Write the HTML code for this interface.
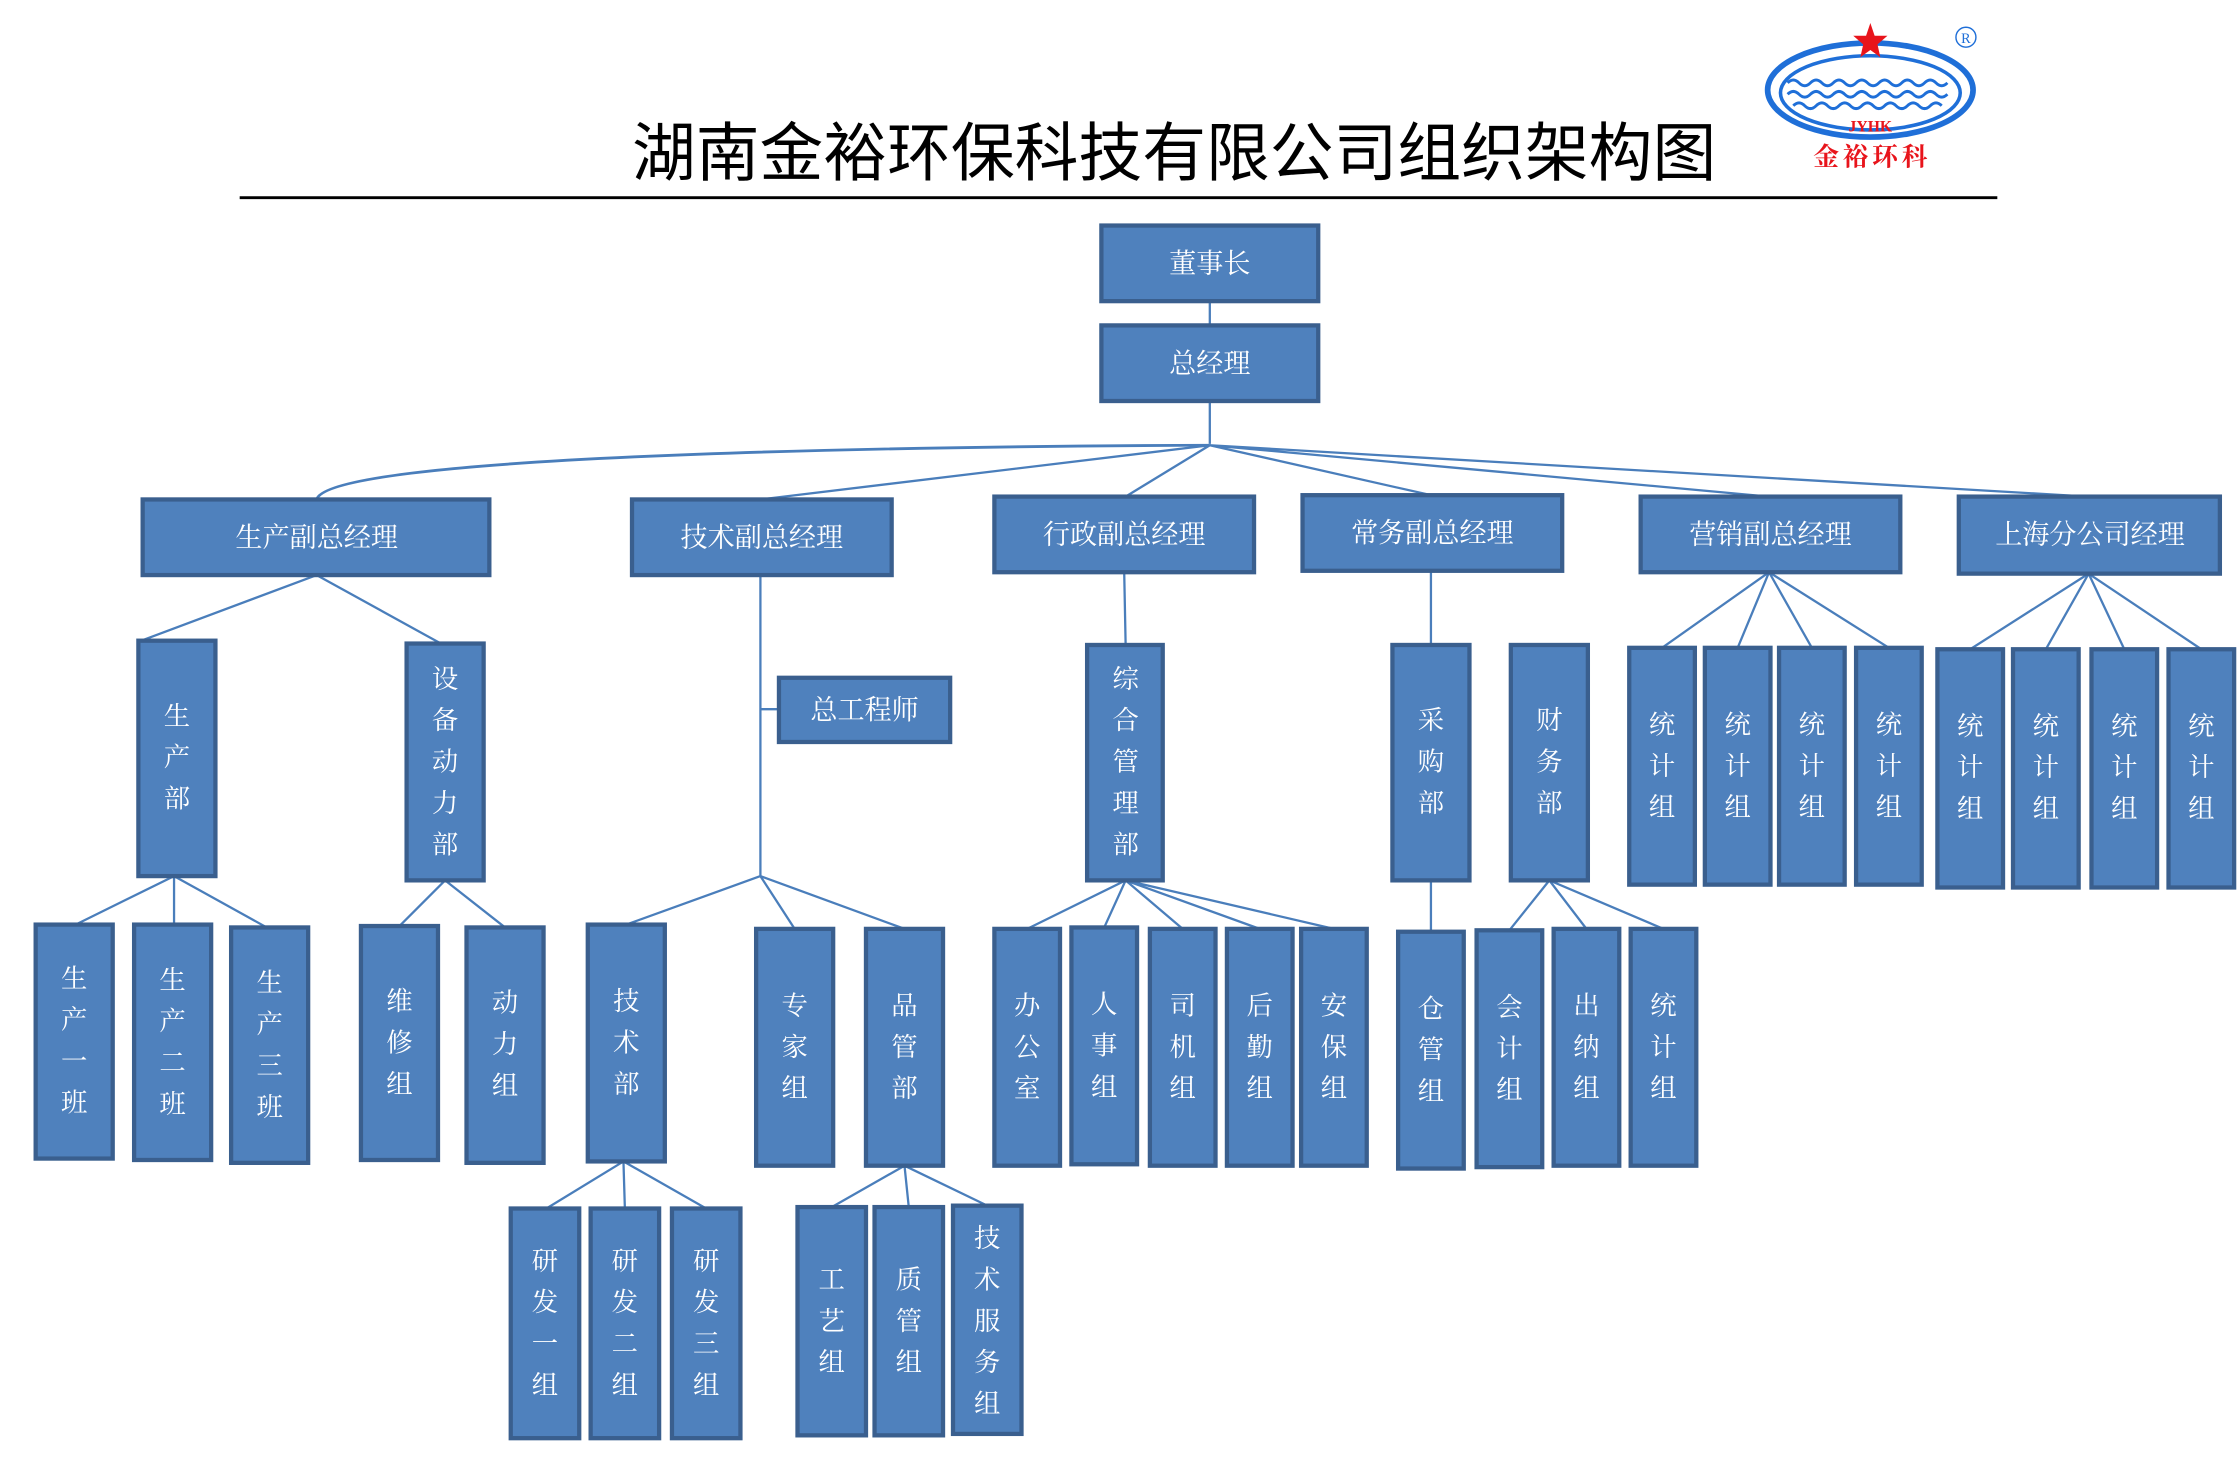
<!DOCTYPE html>
<html><head><meta charset="utf-8"><style>
html,body{margin:0;padding:0;background:#fff;width:2237px;height:1464px;overflow:hidden}
svg{display:block}
.b{fill:#4f81bd;stroke:#3a5f8e;stroke-width:3}
.t{fill:#fff;font-family:"Liberation Serif","Noto Serif CJK SC",serif;font-size:18.5px;text-anchor:middle}
.h{font-size:19px}
.l{stroke:#4a7ebb;stroke-width:1.6;fill:none}
</style></head><body>
<svg width="2237" height="1464" viewBox="0 0 1568 1026" xmlns="http://www.w3.org/2000/svg">
<text x="823" y="123" font-family="'Liberation Sans','Noto Sans CJK SC',sans-serif" font-size="45" font-weight="normal" text-anchor="middle" fill="#000" textLength="760" lengthAdjust="spacingAndGlyphs">湖南金裕环保科技有限公司组织架构图</text>
<line x1="168" y1="138.5" x2="1400" y2="138.5" stroke="#000" stroke-width="2"/>
<!-- logo -->
<ellipse cx="1311" cy="63" rx="72" ry="33" fill="none" stroke="#1f6fd8" stroke-width="4"/>
<ellipse cx="1311" cy="65" rx="63" ry="26" fill="none" stroke="#1f6fd8" stroke-width="2.5"/>
<path d="M1253 58 q4-4 8 0 t8 0 t8 0 t8 0 t8 0 t8 0 t8 0 t8 0 t8 0 t8 0 t8 0 t8 0 t8 0 t8 0 M1253 66 q4-4 8 0 t8 0 t8 0 t8 0 t8 0 t8 0 t8 0 t8 0 t8 0 t8 0 t8 0 t8 0 t8 0 t8 0 M1257 74 q4-4 8 0 t8 0 t8 0 t8 0 t8 0 t8 0 t8 0 t8 0 t8 0 t8 0 t8 0 t8 0 t8 0" fill="none" stroke="#1f6fd8" stroke-width="2"/>
<polygon points="1311,16 1314,25 1323,25 1316,31 1318,40 1311,35 1304,40 1306,31 1299,25 1308,25" fill="#e8141b"/>
<text x="1311" y="92" font-family="'Liberation Serif',serif" font-size="11" font-weight="bold" fill="#e8141b" text-anchor="middle">JYHK</text>
<text x="1311" y="116" font-family="'Liberation Serif','Noto Serif CJK SC',serif" font-size="18" font-weight="bold" fill="#e8141b" text-anchor="middle" textLength="80" lengthAdjust="spacing">金裕环科</text>
<circle cx="1378" cy="26" r="7" fill="none" stroke="#1f6fd8" stroke-width="1"/>
<text x="1378" y="30" font-family="'Liberation Serif',serif" font-size="10" fill="#1f6fd8" text-anchor="middle">R</text>

<!-- connectors -->
<g class="l">
<path d="M848 211V228M848 281V311"/>
<path d="M848 312 C600 313 230 320 222 350" stroke-width="2"/>
<path d="M848 312L533 350M848 312L789 348M848 312L1003 347M848 312L1240 348M848 312L1464 348"/>
<path d="M222 403L99 449M222 403L309 451"/>
<path d="M122 614L53 648M122 614L122 648M122 614L187 650"/>
<path d="M312 617L280 649M312 617L354 650"/>
<path d="M533 403V614M533 497H546M533 614L439 648M533 614L557 651M533 614L634 651"/>
<path d="M437 814L383 847M437 814L438 847M437 814L495 847"/>
<path d="M634 817L583 846M634 817L637 846M634 817L692 845"/>
<path d="M788 401L789 452M789 617L720 651M789 617L774 650M789 617L829 651M789 617L883 651M789 617L935 651"/>
<path d="M1003 400V452M1003 617V653"/>
<path d="M1086 617L1058 652M1086 617L1112 651M1086 617L1166 651"/>
<path d="M1240 401L1165 454M1240 401L1218 454M1240 401L1270 454M1240 401L1324 454"/>
<path d="M1464 402L1381 455M1464 402L1434 455M1464 402L1489 455M1464 402L1543 455"/>
</g>

<!-- horizontal boxes -->
<rect class="b" x="772" y="158" width="152" height="53"/><text class="t h" x="848" y="191">董事长</text>
<rect class="b" x="772" y="228" width="152" height="53"/><text class="t h" x="848" y="261">总经理</text>
<rect class="b" x="100" y="350" width="243" height="53"/><text class="t h" x="222" y="383">生产副总经理</text>
<rect class="b" x="443" y="350" width="182" height="53"/><text class="t h" x="534" y="383">技术副总经理</text>
<rect class="b" x="697" y="348" width="182" height="53"/><text class="t h" x="788" y="381">行政副总经理</text>
<rect class="b" x="913" y="347" width="182" height="53"/><text class="t h" x="1004" y="380">常务副总经理</text>
<rect class="b" x="1150" y="348" width="182" height="53"/><text class="t h" x="1241" y="381">营销副总经理</text>
<rect class="b" x="1373" y="348" width="183" height="54"/><text class="t h" x="1465" y="381">上海分公司经理</text>
<rect class="b" x="546" y="475" width="120" height="45"/><text class="t h" x="606" y="504">总工程师</text>

<!-- vertical boxes row 2 -->
<rect class="b" x="97" y="449" width="54" height="165"/><text class="t" x="124"><tspan x="124" y="508">生</tspan><tspan x="124" y="537">产</tspan><tspan x="124" y="566">部</tspan></text>
<rect class="b" x="285" y="451" width="54" height="166"/><text class="t"><tspan x="312" y="482">设</tspan><tspan x="312" y="511">备</tspan><tspan x="312" y="540">动</tspan><tspan x="312" y="569">力</tspan><tspan x="312" y="598">部</tspan></text>
<rect class="b" x="762" y="452" width="53" height="165"/><text class="t"><tspan x="789" y="482">综</tspan><tspan x="789" y="511">合</tspan><tspan x="789" y="540">管</tspan><tspan x="789" y="569">理</tspan><tspan x="789" y="598">部</tspan></text>
<rect class="b" x="976" y="452" width="54" height="165"/><text class="t"><tspan x="1003" y="511">采</tspan><tspan x="1003" y="540">购</tspan><tspan x="1003" y="569">部</tspan></text>
<rect class="b" x="1059" y="452" width="54" height="165"/><text class="t"><tspan x="1086" y="511">财</tspan><tspan x="1086" y="540">务</tspan><tspan x="1086" y="569">部</tspan></text>

<rect class="b" x="1142" y="454" width="46" height="166"/><text class="t"><tspan x="1165" y="514">统</tspan><tspan x="1165" y="543">计</tspan><tspan x="1165" y="572">组</tspan></text>
<rect class="b" x="1195" y="454" width="46" height="166"/><text class="t"><tspan x="1218" y="514">统</tspan><tspan x="1218" y="543">计</tspan><tspan x="1218" y="572">组</tspan></text>
<rect class="b" x="1247" y="454" width="46" height="166"/><text class="t"><tspan x="1270" y="514">统</tspan><tspan x="1270" y="543">计</tspan><tspan x="1270" y="572">组</tspan></text>
<rect class="b" x="1301" y="454" width="46" height="166"/><text class="t"><tspan x="1324" y="514">统</tspan><tspan x="1324" y="543">计</tspan><tspan x="1324" y="572">组</tspan></text>
<rect class="b" x="1358" y="455" width="46" height="167"/><text class="t"><tspan x="1381" y="515">统</tspan><tspan x="1381" y="544">计</tspan><tspan x="1381" y="573">组</tspan></text>
<rect class="b" x="1411" y="455" width="46" height="167"/><text class="t"><tspan x="1434" y="515">统</tspan><tspan x="1434" y="544">计</tspan><tspan x="1434" y="573">组</tspan></text>
<rect class="b" x="1466" y="455" width="46" height="167"/><text class="t"><tspan x="1489" y="515">统</tspan><tspan x="1489" y="544">计</tspan><tspan x="1489" y="573">组</tspan></text>
<rect class="b" x="1520" y="455" width="46" height="167"/><text class="t"><tspan x="1543" y="515">统</tspan><tspan x="1543" y="544">计</tspan><tspan x="1543" y="573">组</tspan></text>

<!-- row 3 -->
<rect class="b" x="25" y="648" width="54" height="164"/><text class="t"><tspan x="52" y="692">生</tspan><tspan x="52" y="721">产</tspan><tspan x="52" y="750">一</tspan><tspan x="52" y="779">班</tspan></text>
<rect class="b" x="94" y="648" width="54" height="165"/><text class="t"><tspan x="121" y="693">生</tspan><tspan x="121" y="722">产</tspan><tspan x="121" y="751">二</tspan><tspan x="121" y="780">班</tspan></text>
<rect class="b" x="162" y="650" width="54" height="165"/><text class="t"><tspan x="189" y="695">生</tspan><tspan x="189" y="724">产</tspan><tspan x="189" y="753">三</tspan><tspan x="189" y="782">班</tspan></text>
<rect class="b" x="253" y="649" width="54" height="164"/><text class="t"><tspan x="280" y="708">维</tspan><tspan x="280" y="737">修</tspan><tspan x="280" y="766">组</tspan></text>
<rect class="b" x="327" y="650" width="54" height="165"/><text class="t"><tspan x="354" y="709">动</tspan><tspan x="354" y="738">力</tspan><tspan x="354" y="767">组</tspan></text>
<rect class="b" x="412" y="648" width="54" height="166"/><text class="t"><tspan x="439" y="708">技</tspan><tspan x="439" y="737">术</tspan><tspan x="439" y="766">部</tspan></text>
<rect class="b" x="530" y="651" width="54" height="166"/><text class="t"><tspan x="557" y="711">专</tspan><tspan x="557" y="740">家</tspan><tspan x="557" y="769">组</tspan></text>
<rect class="b" x="607" y="651" width="54" height="166"/><text class="t"><tspan x="634" y="711">品</tspan><tspan x="634" y="740">管</tspan><tspan x="634" y="769">部</tspan></text>
<rect class="b" x="697" y="651" width="46" height="166"/><text class="t"><tspan x="720" y="711">办</tspan><tspan x="720" y="740">公</tspan><tspan x="720" y="769">室</tspan></text>
<rect class="b" x="751" y="650" width="46" height="166"/><text class="t"><tspan x="774" y="710">人</tspan><tspan x="774" y="739">事</tspan><tspan x="774" y="768">组</tspan></text>
<rect class="b" x="806" y="651" width="46" height="166"/><text class="t"><tspan x="829" y="711">司</tspan><tspan x="829" y="740">机</tspan><tspan x="829" y="769">组</tspan></text>
<rect class="b" x="860" y="651" width="46" height="166"/><text class="t"><tspan x="883" y="711">后</tspan><tspan x="883" y="740">勤</tspan><tspan x="883" y="769">组</tspan></text>
<rect class="b" x="912" y="651" width="46" height="166"/><text class="t"><tspan x="935" y="711">安</tspan><tspan x="935" y="740">保</tspan><tspan x="935" y="769">组</tspan></text>
<rect class="b" x="980" y="653" width="46" height="166"/><text class="t"><tspan x="1003" y="713">仓</tspan><tspan x="1003" y="742">管</tspan><tspan x="1003" y="771">组</tspan></text>
<rect class="b" x="1035" y="652" width="46" height="166"/><text class="t"><tspan x="1058" y="712">会</tspan><tspan x="1058" y="741">计</tspan><tspan x="1058" y="770">组</tspan></text>
<rect class="b" x="1089" y="651" width="46" height="166"/><text class="t"><tspan x="1112" y="711">出</tspan><tspan x="1112" y="740">纳</tspan><tspan x="1112" y="769">组</tspan></text>
<rect class="b" x="1143" y="651" width="46" height="166"/><text class="t"><tspan x="1166" y="711">统</tspan><tspan x="1166" y="740">计</tspan><tspan x="1166" y="769">组</tspan></text>

<!-- row 4 -->
<rect class="b" x="358" y="847" width="48" height="161"/><text class="t"><tspan x="382" y="890">研</tspan><tspan x="382" y="919">发</tspan><tspan x="382" y="948">一</tspan><tspan x="382" y="977">组</tspan></text>
<rect class="b" x="414" y="847" width="48" height="161"/><text class="t"><tspan x="438" y="890">研</tspan><tspan x="438" y="919">发</tspan><tspan x="438" y="948">二</tspan><tspan x="438" y="977">组</tspan></text>
<rect class="b" x="471" y="847" width="48" height="161"/><text class="t"><tspan x="495" y="890">研</tspan><tspan x="495" y="919">发</tspan><tspan x="495" y="948">三</tspan><tspan x="495" y="977">组</tspan></text>
<rect class="b" x="559" y="846" width="48" height="160"/><text class="t"><tspan x="583" y="903">工</tspan><tspan x="583" y="932">艺</tspan><tspan x="583" y="961">组</tspan></text>
<rect class="b" x="613" y="846" width="48" height="160"/><text class="t"><tspan x="637" y="903">质</tspan><tspan x="637" y="932">管</tspan><tspan x="637" y="961">组</tspan></text>
<rect class="b" x="668" y="845" width="48" height="160"/><text class="t"><tspan x="692" y="874">技</tspan><tspan x="692" y="903">术</tspan><tspan x="692" y="932">服</tspan><tspan x="692" y="961">务</tspan><tspan x="692" y="990">组</tspan></text>
</svg>
</body></html>
